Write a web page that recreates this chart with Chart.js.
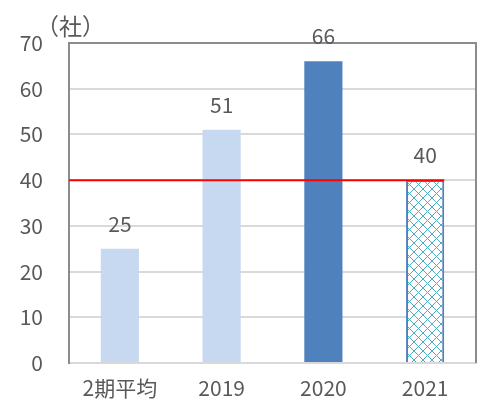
<!DOCTYPE html>
<html>
<head>
<meta charset="utf-8">
<script src="https://cdn.jsdelivr.net/npm/chart.js@4"></script>
<style>
  html, body { margin: 0; padding: 0; background: #fff; }
  #wrap { width: 484px; height: 405px; }
</style>
</head>
<body>
<div id="wrap"><canvas id="bar-chart" width="484" height="405"></canvas></div>
<script>
var categories = ['2期平均', '2019', '2020', '2021']
var companyCounts = [25, 51, 66, 40]
var referenceLine = 40
var unitLabel = '（社）'

var fontFamily = "'Noto Sans CJK JP', 'Noto Sans', sans-serif"
var textColor = '#595959'

function makeHatch() {
    var c = document.createElement('canvas')
    c.width = 9
    c.height = 9
    var g = c.getContext('2d')
    g.fillStyle = '#ffffff'
    g.fillRect(0, 0, 9, 9)
    g.strokeStyle = '#4bacc6'
    g.lineWidth = 1
    g.beginPath()
    g.moveTo(0, 0); g.lineTo(9, 9)
    g.moveTo(9, 0); g.lineTo(0, 9)
    g.stroke()
    return g.createPattern(c, 'repeat')
}

var barColors = ['#c6d9f0', '#c6d9f0', '#4f81bd', makeHatch()]
var barBorders = ['#c6d9f0', '#c6d9f0', '#4f81bd', '#4f81bd']
var barBorderWidths = [0, 0, 0, 2]

var decorPlugin = {
    id: 'decor',
    afterDatasetsDraw: function(chart) {
        var ctx = chart.ctx
        var area = chart.chartArea
        var yScale = chart.scales.y
        var bars = chart.getDatasetMeta(0).data

        // red reference line, from the axis to the right edge of the last bar
        var last = bars[bars.length - 1]
        var yLine = yScale.getPixelForValue(referenceLine)
        ctx.save()
        ctx.strokeStyle = '#ff0000'
        ctx.lineWidth = 2
        ctx.beginPath()
        ctx.moveTo(area.left, yLine)
        ctx.lineTo(last.x + last.width / 2, yLine)
        ctx.stroke()

        // plot area border (top, right)
        ctx.strokeStyle = '#8c8c8c'
        ctx.lineWidth = 2
        ctx.beginPath()
        ctx.moveTo(area.left, area.top)
        ctx.lineTo(area.right, area.top)
        ctx.lineTo(area.right, area.bottom)
        ctx.stroke()

        // value labels
        ctx.fillStyle = textColor
        ctx.font = '21px ' + fontFamily
        ctx.textAlign = 'center'
        ctx.textBaseline = 'middle'
        bars.forEach(function(bar, i) {
            ctx.fillText(companyCounts[i], bar.x, bar.y - 25)
        })

        // unit label
        ctx.textAlign = 'left'
        ctx.font = '23px ' + fontFamily
        ctx.fillText(unitLabel, area.left - 33, area.top - 17)
        ctx.restore()
    }
}

new Chart(document.getElementById('bar-chart'), {
    type: 'bar',
    data: {
        labels: categories,
        datasets: [{
            data: companyCounts,
            backgroundColor: barColors,
            borderColor: barBorders,
            borderWidth: barBorderWidths,
            borderSkipped: 'bottom',
            categoryPercentage: 0.75,
            barPercentage: 0.5
        }]
    },
    options: {
        responsive: false,
        animation: false,
        layout: { padding: { top: 43, right: 8, bottom: 0, left: 0 } },
        plugins: {
            legend: { display: false },
            tooltip: { enabled: false }
        },
        scales: {
            x: {
                grid: { display: false },
                border: { color: '#d9d9d9', width: 2 },
                ticks: { color: textColor, font: { family: fontFamily, size: 21 }, padding: 4 },
                afterFit: function(scale) { scale.height = 42 }
            },
            y: {
                min: 0,
                max: 70,
                ticks: { stepSize: 10, color: textColor, font: { family: fontFamily, size: 21 }, padding: 26 },
                grid: { color: '#d9d9d9', lineWidth: 2, drawTicks: false },
                border: { color: '#8c8c8c', width: 2 },
                afterFit: function(scale) { scale.width = 69 }
            }
        }
    },
    plugins: [decorPlugin]
})
</script>
</body>
</html>
